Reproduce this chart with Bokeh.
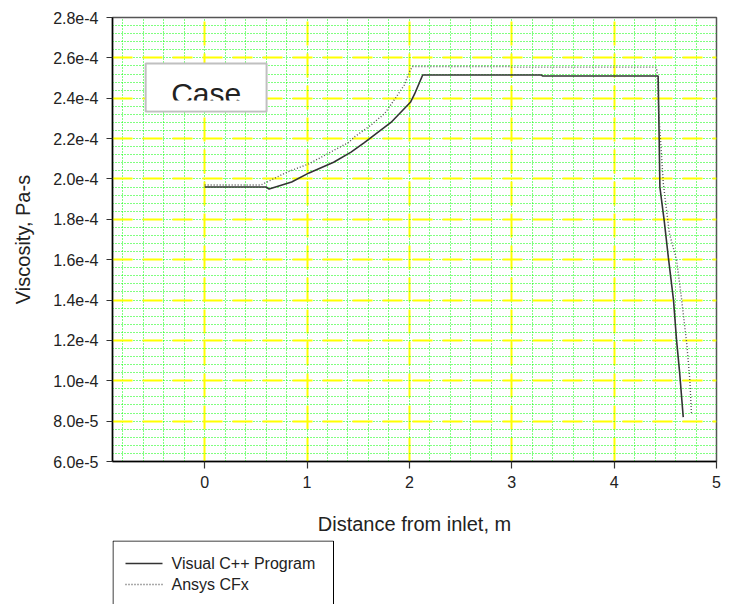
from bokeh.plotting import figure
from bokeh.layouts import column
from bokeh.models import FixedTicker, Range1d
from bokeh.core.properties import value
from bokeh.embed import file_html
from bokeh.resources import INLINE

# ---- data ----
vc_x = [0.0, 0.60, 0.63, 0.85, 1.02, 1.26, 1.43, 1.56, 1.82, 2.01, 2.05, 2.13,
        3.29, 3.30, 4.43, 4.44, 4.447, 4.49, 4.53, 4.58, 4.61, 4.64, 4.675]
vc_y = [1.96e-4, 1.96e-4, 1.95e-4, 1.985e-4, 2.03e-4, 2.083e-4, 2.133e-4, 2.18e-4,
        2.28e-4, 2.38e-4, 2.42e-4, 2.515e-4, 2.515e-4, 2.51e-4, 2.51e-4, 2.2e-4,
        1.96e-4, 1.79e-4, 1.61e-4, 1.40e-4, 1.20e-4, 1.04e-4, 8.2e-5]

an_x = [0.0, 0.55, 0.81, 1.02, 1.23, 1.41, 1.46, 1.62, 1.76, 1.87, 1.95, 2.00, 2.03,
        2.98, 3.0, 4.41, 4.42, 4.435, 4.45, 4.48, 4.54, 4.61, 4.66, 4.71, 4.74, 4.755]
an_y = [1.97e-4, 1.97e-4, 2.035e-4, 2.075e-4, 2.133e-4, 2.182e-4, 2.207e-4, 2.265e-4,
        2.325e-4, 2.405e-4, 2.465e-4, 2.53e-4, 2.557e-4, 2.557e-4, 2.554e-4, 2.554e-4,
        2.53e-4, 2.34e-4, 2.22e-4, 1.98e-4, 1.73e-4, 1.60e-4, 1.40e-4, 1.18e-4, 1.0e-4, 8.4e-5]

series_names = ["Visual C++ Program", "Ansys CFx"]
x_ticks = [0, 1, 2, 3, 4, 5]
y_ticks = [6e-5, 8e-5, 1.0e-4, 1.2e-4, 1.4e-4, 1.6e-4, 1.8e-4, 2.0e-4, 2.2e-4,
           2.4e-4, 2.6e-4, 2.8e-4]
y_tick_labels = ["6.0e-5", "8.0e-5", "1.0e-4", "1.2e-4", "1.4e-4", "1.6e-4", "1.8e-4",
                 "2.0e-4", "2.2e-4", "2.4e-4", "2.6e-4", "2.8e-4"]
x_label = "Distance from inlet, m"
y_label = "Viscosity, Pa-s"
box_text = "Case"

FONT = "Liberation Sans"
SOLID = dict(line_color="#333333", line_width=1.6)
DOTTED = dict(line_color="#555555", line_width=1.4, line_dash="1 2")

p = figure(width=734, height=540, output_backend="svg", toolbar_location=None,
           x_range=Range1d(-0.9, 5.0), y_range=Range1d(6e-5, 2.8e-4),
           min_border_left=112, min_border_right=18, min_border_top=17,
           min_border_bottom=79)
p.background_fill_color = "white"
p.border_fill_color = "white"
p.outline_line_color = "#555555"
p.outline_line_width = 1.5

x_minor = [round(-0.8 + 0.2 * i, 3) for i in range(29)]
y_minor = [6e-5 + 4e-6 * i for i in range(56)]
p.xaxis.ticker = FixedTicker(ticks=x_ticks, minor_ticks=x_minor)
p.yaxis.ticker = FixedTicker(ticks=y_ticks, minor_ticks=y_minor)
p.yaxis.major_label_overrides = {t: l for t, l in zip(y_ticks, y_tick_labels)}

for ax in (p.xaxis[0], p.yaxis[0]):
    ax.axis_line_color = "black"
    ax.axis_line_width = 1.5
    ax.major_tick_line_color = "#333333"
    ax.major_tick_line_width = 1.2
    ax.major_tick_in = 0
    ax.minor_tick_line_color = None
    ax.major_label_text_font = FONT
    ax.major_label_text_font_size = "16px"
    ax.major_label_text_color = "#222222"
    ax.axis_label_text_font = FONT
    ax.axis_label_text_font_size = "20px"
    ax.axis_label_text_font_style = "normal"
    ax.axis_label_text_color = "#222222"

p.xaxis.major_tick_out = 7
p.yaxis.major_tick_out = 6
p.xaxis.major_label_standoff = 7
p.yaxis.major_label_standoff = 8
p.xaxis.axis_label = x_label
p.yaxis.axis_label = y_label
p.xaxis.axis_label_standoff = 22
p.yaxis.axis_label_standoff = 16

for g in (p.xgrid[0], p.ygrid[0]):
    g.grid_line_color = "#ffff00"
    g.grid_line_width = 2
    g.minor_grid_line_color = "#00ff00"
    g.minor_grid_line_width = 1
    g.minor_grid_line_dash = "1 2"
p.ygrid.grid_line_dash = "20 10"
p.xgrid.grid_line_dash = "24 8"

p.line(vc_x, vc_y, **SOLID)
p.line(an_x, an_y, **DOTTED)

# "Case" box (glyphs so that draw order is kept)
p.quad(left=[-0.576], right=[0.605], top=[2.572e-4], bottom=[2.334e-4],
       fill_color="white", fill_alpha=1.0, line_color="#c0c0c0", line_width=2)
p.text(x=[0.015], y=[2.4234e-4], text=[box_text], text_align="center",
       text_baseline="middle", text_font=value(FONT), text_font_size="30px",
       text_color="#222222")
p.quad(left=[-0.56], right=[0.59], top=[2.389e-4], bottom=[2.341e-4],
       fill_color="white", fill_alpha=1.0, line_color=None)

# legend strip below the chart (frame aligned with the chart's frame,
# coordinates here are pixels inside that strip)
p2 = figure(width=734, height=64, output_backend="svg", toolbar_location=None,
            x_axis_type=None, y_axis_type=None, min_border=0,
            x_range=Range1d(0, 604), y_range=Range1d(0, 64))
p2.outline_line_color = None
p2.background_fill_color = "white"
p2.border_fill_color = "white"
p2.grid.visible = False
# legend box frame (open at the bottom edge of the page)
p2.quad(left=[0.5], right=[221], top=[63.5], bottom=[-5],
        fill_color="white", line_color="black", line_width=1)
row_y = [41, 20]
styles = [SOLID, DOTTED]
for name, yy, st in zip(series_names, row_y, styles):
    p2.line([13, 50], [yy, yy], **st)
    p2.text(x=[59], y=[yy], text=[name], text_align="left", text_baseline="middle",
            text_font=value(FONT), text_font_size="16px", text_color="#222222")

layout = column(p, p2, spacing=0)
open("out.html", "w").write(file_html(layout, INLINE))
